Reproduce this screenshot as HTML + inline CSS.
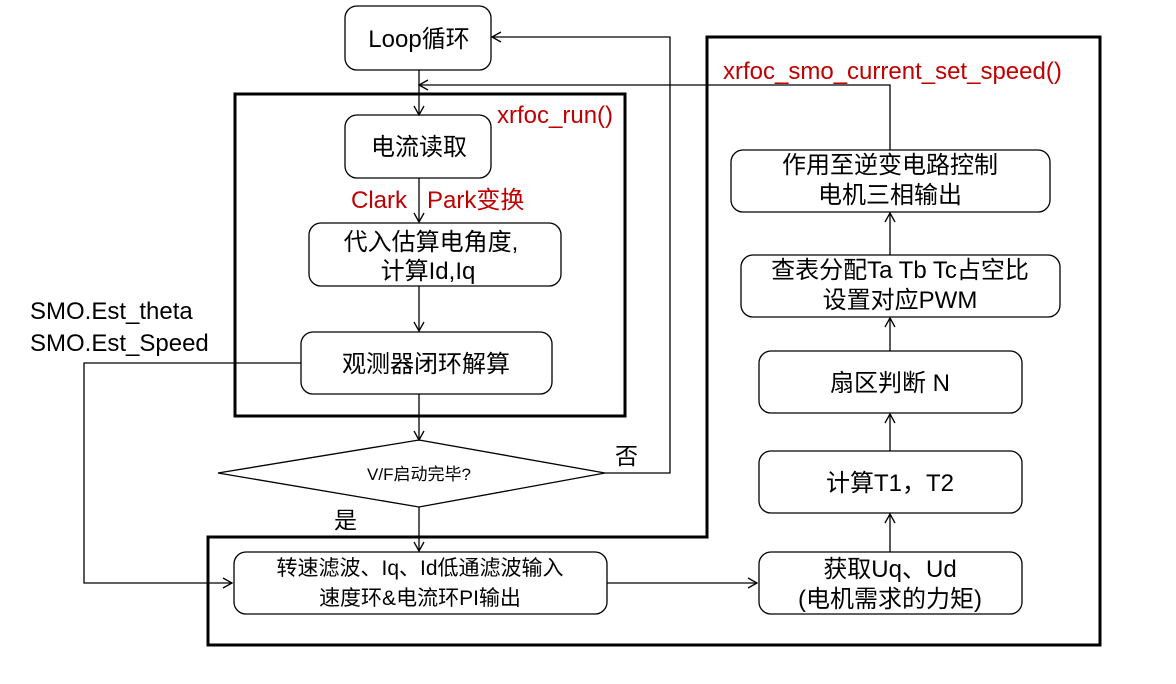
<!DOCTYPE html>
<html><head><meta charset="utf-8"><style>
body{margin:0;background:#fff}
svg text{font-family:"Liberation Sans","Noto Sans CJK SC",sans-serif;}
</style></head><body>
<svg width="1176" height="679" viewBox="0 0 1176 679" xmlns="http://www.w3.org/2000/svg">
<defs><marker id="a" markerWidth="12" markerHeight="12" refX="10" refY="6" orient="auto" markerUnits="userSpaceOnUse"><path d="M1,1 L10,6 L1,11" fill="none" stroke="#000" stroke-width="1.3"/></marker></defs>
<g fill="none" stroke="#000" stroke-width="3">
<rect x="235" y="94" width="390" height="322"/>
<path d="M208,537 L208,645 L1100,645 L1100,37 L707,37 L707,537 Z"/>
</g>
<g fill="#fff" stroke="#000" stroke-width="1.3">
<rect x="345" y="6" width="146" height="64" rx="12"/>
<rect x="345" y="115" width="146" height="63" rx="12"/>
<rect x="309" y="223" width="252" height="63" rx="12"/>
<rect x="301" y="332" width="251" height="62" rx="12"/>
<path d="M419,440 L605,473 L419,507 L218,473 Z"/>
<rect x="234" y="552" width="373" height="62" rx="12"/>
<rect x="759" y="552" width="263" height="62" rx="12"/>
<rect x="759" y="451" width="263" height="62" rx="12"/>
<rect x="759" y="351" width="263" height="62" rx="12"/>
<rect x="741" y="255" width="319" height="62" rx="12"/>
<rect x="731" y="150" width="319" height="62" rx="12"/>
</g>
<g fill="none" stroke="#000" stroke-width="1.3" marker-end="url(#a)">
<path d="M419,70 L419,115"/>
<path d="M890,150 L890,85 L419,85"/>
<path d="M419,178 L419,222"/>
<path d="M419,286 L419,331"/>
<path d="M419,394 L419,440"/>
<path d="M605,473 L670,473 L670,37 L492,37"/>
<path d="M419,507 L419,551"/>
<path d="M301,363 L84,363 L84,583 L232,583"/>
<path d="M607,583 L757,583"/>
<path d="M890,552 L890,514"/>
<path d="M890,451 L890,414"/>
<path d="M890,351 L890,318"/>
<path d="M890,255 L890,213"/>
</g>
<g font-size="24" text-anchor="middle" fill="#000">
<text x="419" y="47">Loop循环</text>
<text x="419" y="155">电流读取</text>
<text x="431" y="250">代入估算电角度,</text>
<text x="428" y="279">计算Id,Iq</text>
<text x="426" y="372">观测器闭环解算</text>
<text x="420" y="575" font-size="21">转速滤波、Iq、Id低通滤波输入</text>
<text x="420" y="605" font-size="21">速度环&amp;电流环PI输出</text>
<text x="890" y="577">获取Uq、Ud</text>
<text x="890" y="607">(电机需求的力矩)</text>
<text x="890" y="491">计算T1，T2</text>
<text x="890" y="391">扇区判断 N</text>
<text x="900" y="278">查表分配Ta Tb Tc占空比</text>
<text x="900" y="308">设置对应PWM</text>
<text x="890" y="173">作用至逆变电路控制</text>
<text x="890" y="203">电机三相输出</text>
</g>
<text x="419" y="480" font-size="17" text-anchor="middle">V/F启动完毕?</text>
<text x="334" y="528" font-size="23">是</text>
<text x="615" y="464" font-size="23">否</text>
<text x="30" y="319" font-size="24">SMO.Est_theta</text>
<text x="30" y="351" font-size="24">SMO.Est_Speed</text>
<g fill="#c00000" font-size="24">
<text x="497" y="123">xrfoc_run()</text>
<text x="351" y="208">Clark</text>
<text x="427" y="208">Park变换</text>
<text x="723" y="79">xrfoc_smo_current_set_speed()</text>
</g>
</svg>
</body></html>
